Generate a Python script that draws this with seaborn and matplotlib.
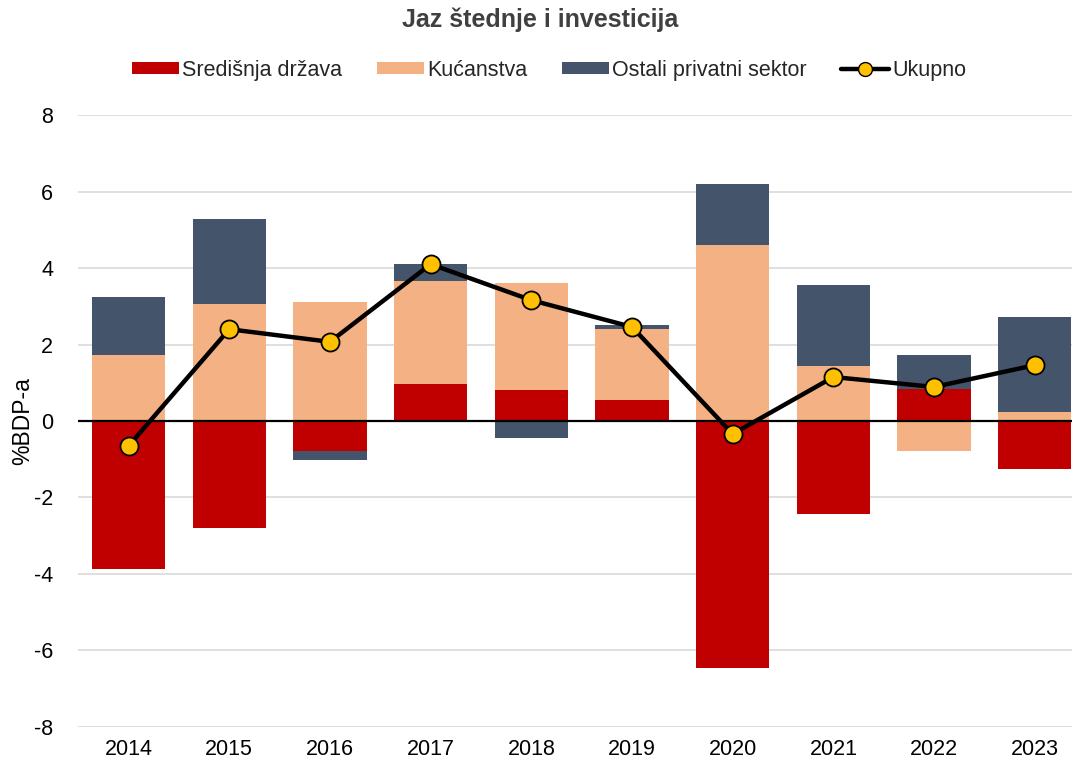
import numpy as np
import pandas as pd
import matplotlib
matplotlib.use("Agg")
import matplotlib.pyplot as plt
import seaborn as sns
from matplotlib.lines import Line2D
from matplotlib.patches import Patch

# values (% of GDP)
years = ["2014", "2015", "2016", "2017", "2018", "2019", "2020", "2021", "2022", "2023"]
drzava = [-3.87, -2.80, -0.78, 0.97, 0.81, 0.55, -6.46, -2.43, 0.84, -1.25]
kucanstva = [1.73, 3.06, 3.11, 2.69, 2.80, 1.86, 4.60, 1.44, -0.78, 0.24]
ostali = [1.51, 2.22, -0.24, 0.44, -0.44, 0.10, 1.60, 2.12, 0.89, 2.48]
ukupno = [-0.65, 2.40, 2.07, 4.10, 3.16, 2.46, -0.34, 1.15, 0.89, 1.46]

series = ["Središnja država", "Kućanstva", "Ostali privatni sektor"]
colors = ["#C00000", "#F4B183", "#44546A"]

sns.set_theme(style="white")
plt.rcParams["font.family"] = ["Liberation Sans", "DejaVu Sans"]
plt.rcParams["axes.unicode_minus"] = False

fig = plt.figure(figsize=(10.72, 7.62), dpi=100)
ax = fig.add_axes([0.073, 0.046, 0.927, 0.803])

# Excel-style stacking: positives and negatives stack separately
x = np.arange(len(years))
pos_base = np.zeros(len(years))
neg_base = np.zeros(len(years))
for vals, col in zip([drzava, kucanstva, ostali], colors):
    v = np.array(vals)
    bottom = np.where(v >= 0, pos_base, neg_base)
    ax.bar(x, v, bottom=bottom, width=0.73, color=col, linewidth=0, zorder=2)
    pos_base = pos_base + np.where(v >= 0, v, 0)
    neg_base = neg_base + np.where(v < 0, v, 0)

ax.axhline(0, color="black", linewidth=1.6, zorder=3)

df = pd.DataFrame({"x": x, "ukupno": ukupno})
sns.lineplot(data=df, x="x", y="ukupno", ax=ax, color="black", linewidth=3.2,
             marker="o", markersize=13, markerfacecolor="#FFC000",
             markeredgecolor="black", markeredgewidth=1.3, zorder=4)

ax.set_xlim(-0.5, 9.37)
ax.set_ylim(-8, 8)
ax.set_yticks(range(-8, 9, 2))
ax.set_xticks(x)
ax.set_xticklabels(years)
ax.yaxis.grid(True, color="#D9D9D9", linewidth=1.2, zorder=0)
ax.xaxis.grid(False)
for s in ax.spines.values():
    s.set_visible(False)
ax.tick_params(axis="both", labelsize=15.5, colors="black", length=0)
ax.tick_params(axis="y", pad=18)
ax.tick_params(axis="x", pad=9)
ax.set_xlabel("")
ax.set_ylabel("%BDP-a", fontsize=16.5, color="black", labelpad=0)

fig.suptitle("Jaz štednje i investicija", x=0.504, y=0.99, fontsize=18,
             fontweight="bold", color="#404040")

handles = [Patch(facecolor=c, edgecolor="none") for c in colors]
handles.append(Line2D([], [], color="black", linewidth=3.2, marker="o",
                      markersize=10, markerfacecolor="#FFC000",
                      markeredgecolor="black"))
fig.legend(handles, series + ["Ukupno"], loc="center", bbox_to_anchor=(0.512, 0.908),
           ncol=4, frameon=False, fontsize=15.5, handlelength=2.2, handleheight=0.55,
           handletextpad=0.15, columnspacing=1.6)

fig.savefig("out.png", dpi=100)
